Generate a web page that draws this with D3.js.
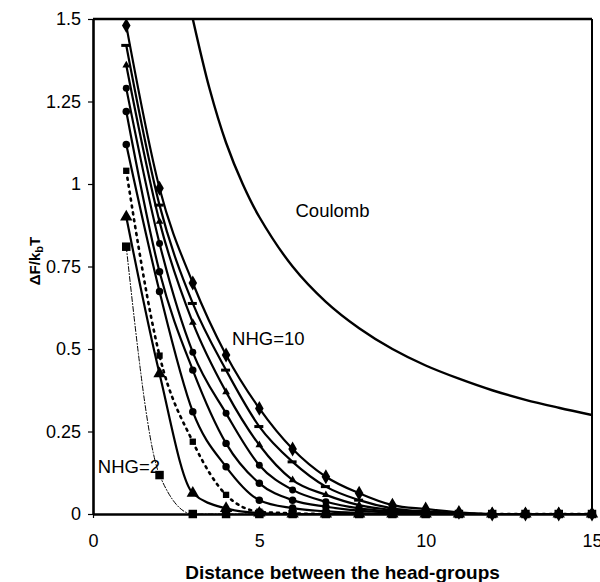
<!DOCTYPE html>
<html>
<head>
<meta charset="utf-8">
<script src="https://cdn.jsdelivr.net/npm/d3@7"></script>
<style>
  html, body { margin: 0; padding: 0; background: #fff; }
  svg { display: block; font-family: "Liberation Sans", Arial, sans-serif; }
</style>
</head>
<body>
<svg id="chart" width="600" height="582"></svg>
<script>
// distance between head-groups (x)
const distance = [1, 2, 3, 4, 5, 6, 7, 8, 9, 10, 11, 12, 13, 14, 15];

// free energy per series
const nhg10 = [1.48, 0.987, 0.70, 0.482, 0.32, 0.197, 0.113, 0.063, 0.027, 0.015, 0.005, 0, 0, 0, 0];
const nhg9  = [1.42, 0.936, 0.638, 0.436, 0.265, 0.158, 0.083, 0.042, 0.017, 0.008, 0.003, 0, 0, 0, 0];
const nhg8  = [1.36, 0.886, 0.58, 0.37, 0.209, 0.103, 0.058, 0.027, 0.012, 0.005, 0, 0, 0, 0, 0];
const nhg7  = [1.29, 0.82, 0.49, 0.305, 0.148, 0.073, 0.037, 0.017, 0.008, 0.003, 0, 0, 0, 0, 0];
const nhg6  = [1.22, 0.734, 0.436, 0.214, 0.093, 0.042, 0.022, 0.01, 0.004, 0, 0, 0, 0, 0, 0];
const nhg5  = [1.12, 0.674, 0.31, 0.143, 0.042, 0.018, 0.008, 0.003, 0, 0, 0, 0, 0, 0, 0];
const nhg4  = [1.04, 0.48, 0.219, 0.058, 0.007, 0.002, 0, 0, 0, 0, 0, 0, 0, 0, 0];
const nhg3  = [0.90, 0.425, 0.063, 0.017, 0.003, 0, 0, 0, 0, 0, 0, 0, 0, 0, 0];
const nhg2  = [0.81, 0.118, 0, 0, 0, 0, 0, 0, 0, 0, 0, 0, 0, 0, 0];

// Coulomb reference curve
const coulombX = [3.0, 3.5, 4, 4.5, 5, 6, 7, 8, 9, 10, 11, 12, 13, 14, 15];
const coulombY = [1.5, 1.29, 1.125, 1.0, 0.9, 0.75, 0.643, 0.563, 0.5, 0.45, 0.41, 0.375, 0.346, 0.322, 0.30];

const xTicks = [0, 5, 10, 15];
const yTicks = [0, 0.25, 0.5, 0.75, 1, 1.25, 1.5];

const series = [
  { name: 'NHG=2',  values: nhg2,  dash: '5,2,1,2', width: 1,   symbol: 'square',   size: 72 },
  { name: 'NHG=3',  values: nhg3,  dash: null,      width: 2.2, symbol: 'triangle', size: 66 },
  { name: 'NHG=4',  values: nhg4,  dash: '2,5',     width: 2.6, symbol: 'square',   size: 40 },
  { name: 'NHG=5',  values: nhg5,  dash: null,      width: 2.2, symbol: 'circle',   size: 44 },
  { name: 'NHG=6',  values: nhg6,  dash: null,      width: 2.2, symbol: 'circle',   size: 44 },
  { name: 'NHG=7',  values: nhg7,  dash: null,      width: 2.2, symbol: 'circle',   size: 38 },
  { name: 'NHG=8',  values: nhg8,  dash: null,      width: 2.2, symbol: 'triangle', size: 26 },
  { name: 'NHG=9',  values: nhg9,  dash: null,      width: 2.2, symbol: 'dash',     size: 0 },
  { name: 'NHG=10', values: nhg10, dash: null,      width: 2.2, symbol: 'diamond',  size: 64 }
];

const svg = d3.select('#chart');
const W = +svg.attr('width');
const H = +svg.attr('height');
const margin = { top: 19, right: 8, bottom: 68, left: 93 };
const width = W - margin.left - margin.right;
const height = H - margin.top - margin.bottom;

svg.append('rect').attr('width', W).attr('height', H).attr('fill', '#fff');

const g = svg.append('g').attr('transform', `translate(${margin.left},${margin.top})`);

const x = d3.scaleLinear().domain([0, 15]).range([0, width]);
const y = d3.scaleLinear().domain([0, 1.5]).range([height, 0]);

g.append('clipPath').attr('id', 'plot-clip')
  .append('rect').attr('width', width).attr('height', height);

// frame (top and right)
g.append('line').attr('x1', 0).attr('x2', width).attr('y1', 0).attr('y2', 0)
  .attr('stroke', '#000').attr('stroke-width', 2.4);
g.append('line').attr('x1', width).attr('x2', width).attr('y1', 0).attr('y2', height)
  .attr('stroke', '#000').attr('stroke-width', 2);

const line = d3.line()
  .x(d => x(d[0]))
  .y(d => y(d[1]))
  .curve(d3.curveMonotoneX);

const curves = g.append('g').attr('clip-path', 'url(#plot-clip)');

// Coulomb
curves.append('path')
  .datum(coulombX.map((v, i) => [v, coulombY[i]]))
  .attr('d', d3.line().x(d => x(d[0])).y(d => y(d[1])).curve(d3.curveCatmullRom))
  .attr('fill', 'none')
  .attr('stroke', '#000')
  .attr('stroke-width', 2.4);

series.forEach(s => {
  const pts = distance.map((d, i) => [d, s.values[i]]);
  curves.append('path')
    .datum(pts)
    .attr('d', line)
    .attr('fill', 'none')
    .attr('stroke', '#000')
    .attr('stroke-width', s.width)
    .attr('stroke-linecap', 'round')
    .attr('stroke-dasharray', s.dash);
});

// markers
const symbols = {
  square: d3.symbolSquare,
  triangle: d3.symbolTriangle,
  circle: d3.symbolCircle,
  diamond: d3.symbolDiamond
};
series.forEach(s => {
  const pts = distance.map((d, i) => [d, s.values[i]]);
  const mg = g.append('g');
  if (s.symbol === 'dash') {
    mg.selectAll('rect').data(pts).join('rect')
      .attr('x', d => x(d[0]) - 5)
      .attr('y', d => y(d[1]) - 1.5)
      .attr('width', 9)
      .attr('height', 3)
      .attr('fill', '#000');
  } else {
    mg.selectAll('path').data(pts).join('path')
      .attr('transform', d => `translate(${x(d[0])},${y(d[1])})`)
      .attr('d', d3.symbol(symbols[s.symbol], s.size))
      .attr('fill', '#000');
  }
});

// axes
const xAxis = g.append('g')
  .attr('transform', `translate(0,${height})`)
  .call(d3.axisBottom(x).tickValues(xTicks).tickSize(4).tickPadding(16).tickSizeOuter(0));
const yAxis = g.append('g')
  .call(d3.axisLeft(y).tickValues(yTicks).tickSize(5).tickPadding(7).tickSizeOuter(0)
    .tickFormat(d => String(d)));
[xAxis, yAxis].forEach(a => {
  a.select('.domain').attr('stroke-width', 2.6);
  a.selectAll('.tick line').attr('stroke-width', 1.2);
  a.selectAll('.tick text')
    .attr('font-size', 18)
    .attr('font-family', '"Liberation Sans", Arial, sans-serif')
    .attr('fill', '#000');
});

// annotations
g.append('text').attr('x', x(7.2)).attr('y', y(0.9)).attr('text-anchor', 'middle')
  .attr('font-size', 18.5).text('Coulomb');
g.append('text').attr('x', x(5.27)).attr('y', y(0.512)).attr('text-anchor', 'middle')
  .attr('font-size', 18.5).text('NHG=10');
g.append('text').attr('x', x(1.08)).attr('y', y(0.125)).attr('text-anchor', 'middle')
  .attr('font-size', 18.5).text('NHG=2');

// axis titles
svg.append('text')
  .attr('x', margin.left + width / 2)
  .attr('y', 579)
  .attr('text-anchor', 'middle')
  .attr('font-size', 19)
  .attr('font-weight', 'bold')
  .text('Distance between the head-groups');

const yt = svg.append('text')
  .attr('transform', `translate(40,261) rotate(-90)`)
  .attr('text-anchor', 'middle')
  .attr('font-size', 15)
  .attr('font-weight', 'bold');
yt.append('tspan').text('ΔF/k');
yt.append('tspan').attr('font-size', 11).attr('dy', 3).text('b');
yt.append('tspan').attr('dy', -3).text('T');
</script>
</body>
</html>
